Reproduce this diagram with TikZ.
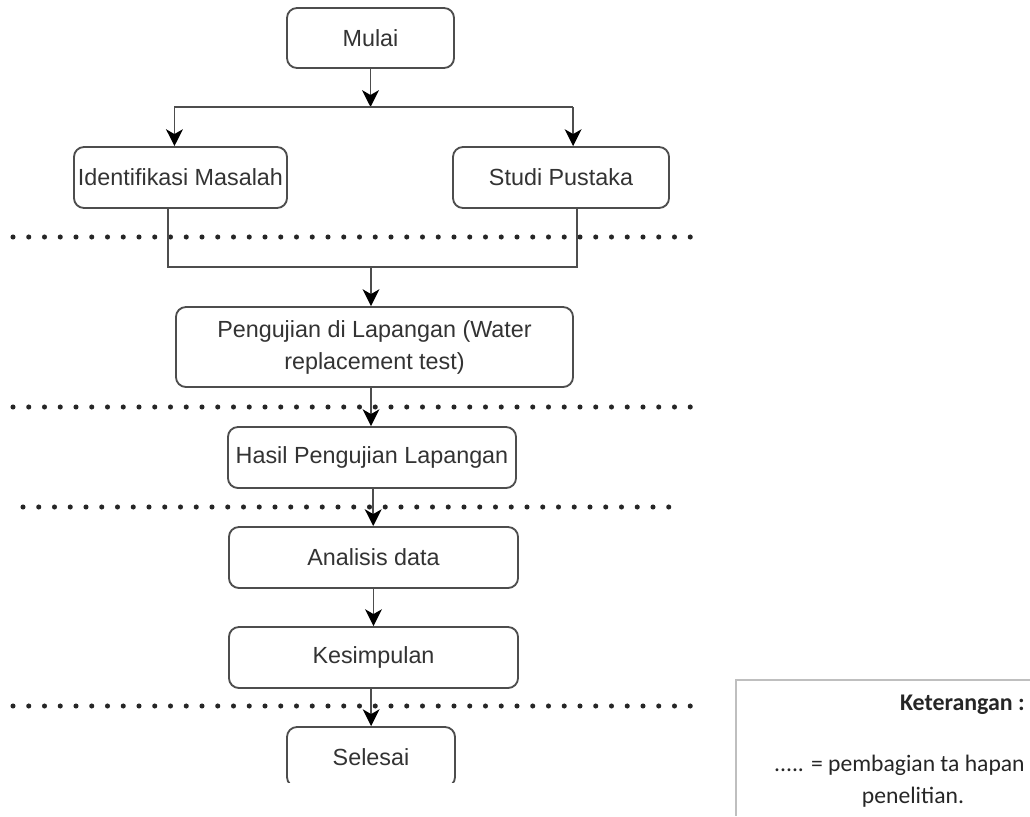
\documentclass[tikz,border=0pt]{standalone}
\usepackage{fontspec}
\setmainfont{Liberation Sans}
\newfontfamily\ketfont{Carlito}
\usetikzlibrary{arrows.meta}
\definecolor{garis}{HTML}{4D4D4D}
\definecolor{teks}{HTML}{333333}
\definecolor{abu}{HTML}{BFBFBF}
\tikzset{
  kotak/.style={draw=garis, line width=1.3pt, rounded corners=0.25cm, fill=white, text=teks, inner sep=0pt,
    minimum height=1.525cm, align=center, font=\fontsize{16.6}{22.8}\selectfont},
  panah/.style={draw=garis, line width=1.2pt, -{Stealth[length=0.42cm,width=0.42cm,inset=0.12cm,color=black]}},
  hubung/.style={draw=garis, line width=1.2pt},
  sekat/.style={draw=black!85, line width=3.6pt, line cap=round, dash pattern=on 0pt off 11.2pt},
  ket/.style={text=black!85, inner sep=0pt, font=\ketfont\fontsize{16.8}{22}\selectfont}
}
\begin{document}
\begin{tikzpicture}[x=0.025cm,y=-0.025cm]
		 \useasboundingbox (0,0) rectangle (1030,816);
		 \draw[sekat] (13,237) -- (692,237); \draw[sekat] (13,407) -- (692,407);
		 \draw[sekat] (23,507) -- (682,507); \draw[sekat] (13,706) -- (692,706);
		 \node[kotak, minimum width=4.175cm, minimum height=1.5cm] (mulai) at (370.5,38) {Mulai};
		 \node[kotak, minimum width=5.325cm] (identifikasi) at (180.5,177.5) {Identifikasi Masalah};
		 \node[kotak, minimum width=5.4cm] (studi) at (561,177.5) {Studi Pustaka};
		 \node[kotak, minimum width=9.925cm, minimum height=2cm] (uji) at (374.5,347) {Pengujian di Lapangan (Water\\replacement test)};
		 \node[kotak, minimum width=7.2cm] (hasil) at (372,457.5) {Hasil Pengujian Lapangan};
		 \node[kotak, minimum width=7.225cm] (analisis) at (373.5,557.5) {Analisis data};
		 \node[kotak, minimum width=7.225cm] (kesimpulan) at (373.5,657.5) {Kesimpulan};
		 \begin{scope} \clip (0,0) rectangle (1030,782);
		 \node[kotak, minimum width=4.2cm, minimum height=1.5cm] (selesai) at (371,757) {Selesai};
		 \end{scope}
		 \coordinate (cabang) at (370.5,107); \coordinate (gabung) at (371,267);
		 \draw[panah] (mulai) -- (cabang);
		 \draw[hubung] ([xshift=-4.9cm]cabang) -- ([xshift=5.065cm]cabang);
		 \draw[panah] ([xshift=-4.9cm]cabang) -- ([xshift=-4.9cm]cabang |- identifikasi.north);
		 \draw[panah] ([xshift=5.065cm]cabang) -- ([xshift=5.065cm]cabang |- studi.north);
		 \draw[hubung] ([xshift=-0.31cm]identifikasi.south) |- (gabung) -| ([xshift=0.4cm]studi.south);
		 \draw[panah] (gabung) -- (gabung |- uji.north);
		 \draw[panah] (gabung |- uji.south) -- (gabung |- hasil.north);
		 \draw[panah] ([xshift=0.03cm]hasil.south) -- ([xshift=0.03cm]hasil.south |- analisis.north);
		 \draw[panah] (analisis) -- (kesimpulan);
		 \draw[panah] ([xshift=-0.06cm]kesimpulan.south) -- ([xshift=-0.06cm]kesimpulan.south |- selesai.north);
		 \draw[abu, line width=1.6pt] (1030,680) -- (736,680) -- (736,816);
		 \node[ket, anchor=east, font=\ketfont\bfseries\fontsize{17}{22}\selectfont] (keterangan) at (1025,705) {Keterangan :};
		 \node[ket, anchor=east] (pembagian) at (1025,765) {..... = pembagian ta hapan};
		 \node[ket] (penelitian) at (913,797) {penelitian.};
\end{tikzpicture}
\end{document}
